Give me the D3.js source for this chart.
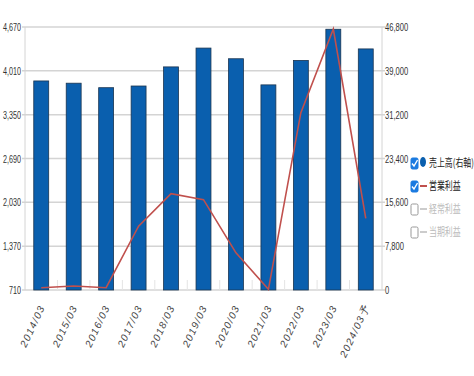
<!DOCTYPE html>
<html>
<head>
<meta charset="utf-8">
<script src="https://cdn.jsdelivr.net/npm/d3@7"></script>
<style>
  body { margin: 0; background: #fff; }
  svg text { font-family: "Liberation Sans", "DejaVu Sans", sans-serif; }
  .lg text { font-family: "Noto Sans CJK JP", sans-serif; }
</style>
</head>
<body>
<svg id="chart" width="474" height="376"></svg>
<script>
const periods = ['2014/03', '2015/03', '2016/03', '2017/03', '2018/03', '2019/03',
  '2020/03', '2021/03', '2022/03', '2023/03', '2024/03予'];
// 売上高 (right axis)
const sales = [37200, 36800, 36000, 36300, 39700, 43050, 41150, 36500, 40850, 46400, 42900];
// 営業利益 (left axis)
const opProfit = [745, 770, 745, 1670, 2160, 2070, 1270, 720, 3380, 4640, 1790];
const leftTicks = [710, 1370, 2030, 2690, 3350, 4010, 4670];
const rightTicks = [0, 7800, 15600, 23400, 31200, 39000, 46800];
const legendItems = [
  { name: '売上高(右軸)', on: true, kind: 'dot', color: '#0a5fae' },
  { name: '営業利益', on: true, kind: 'line', color: '#c0504d' },
  { name: '経常利益', on: false, kind: 'line', color: '#ccc' },
  { name: '当期利益', on: false, kind: 'line', color: '#ccc' },
];

const svg = d3.select('#chart');
const pl = 25, pr = 382, pt = 27, pb = 290;
const fmt = d3.format(',');

const x = d3.scaleBand().domain(periods).range([pl, pr]).paddingInner(0.54).paddingOuter(0.27);
const yL = d3.scaleLinear().domain([710, 4670]).range([pb, pt]);
const yR = d3.scaleLinear().domain([0, 46800]).range([pb, pt]);

// grid lines
svg.append('g').selectAll('line').data(leftTicks).enter().append('line')
  .attr('x1', pl - 3).attr('x2', pr + 3)
  .attr('y1', d => yL(d)).attr('y2', d => yL(d))
  .attr('stroke', '#d4d4d4').attr('stroke-width', 1.5);

// frame verticals
svg.append('line').attr('x1', pl).attr('x2', pl).attr('y1', pt).attr('y2', pb)
  .attr('stroke', '#d4d4d4').attr('stroke-width', 1);
svg.append('line').attr('x1', pr).attr('x2', pr).attr('y1', pt).attr('y2', pb)
  .attr('stroke', '#d4d4d4').attr('stroke-width', 1);

// category separator ticks
const step = x.step();
svg.append('g').selectAll('line').data(periods.slice(1)).enter().append('line')
  .attr('x1', d => x(d) - step * 0.27).attr('x2', d => x(d) - step * 0.27)
  .attr('y1', pb - 10).attr('y2', pb)
  .attr('stroke', '#e4e4e4').attr('stroke-width', 1);

// left axis labels (narrow)
svg.append('g').selectAll('text').data(leftTicks).enter().append('text')
  .attr('transform', d => `translate(${pl - 4},${yL(d) + 4}) scale(0.72,1)`)
  .attr('text-anchor', 'end').attr('font-size', 10).attr('fill', '#333')
  .text(d => fmt(d));

// right axis labels
svg.append('g').selectAll('text').data(rightTicks).enter().append('text')
  .attr('transform', d => `translate(${pr + 3},${yR(d) + 4}) scale(0.76,1)`)
  .attr('text-anchor', 'start').attr('font-size', 10).attr('fill', '#333')
  .text(d => fmt(d));

// bars
svg.append('g').selectAll('rect').data(periods).enter().append('rect')
  .attr('x', d => x(d)).attr('width', x.bandwidth())
  .attr('y', (d, i) => yR(sales[i]))
  .attr('height', (d, i) => pb - yR(sales[i]))
  .attr('fill', '#0a5fae').attr('stroke', '#1b3550').attr('stroke-width', 0.8);

// operating profit line
const line = d3.line()
  .x((d, i) => x(periods[i]) + x.bandwidth() / 2)
  .y(d => yL(d));
svg.append('path').datum(opProfit)
  .attr('d', line).attr('fill', 'none')
  .attr('stroke', '#c0504d').attr('stroke-width', 1.6);

// x labels
svg.append('g').selectAll('text').data(periods).enter().append('text')
  .attr('transform', d => `translate(${x(d) + x.bandwidth() / 2 + 4},${pb + 17}) rotate(-65)`)
  .attr('text-anchor', 'end').attr('font-size', 10).attr('fill', '#444')
  .attr('font-style', 'italic').attr('letter-spacing', 1.3)
  .text(d => d);

// legend
const lg = svg.append('g').attr('class', 'lg');
legendItems.forEach((it, i) => {
  const cy = 163 + i * 23;
  const g = lg.append('g');
  g.append('rect').attr('x', 411).attr('y', cy - 5).attr('width', 7).attr('height', 11).attr('rx', 1.5)
    .attr('fill', it.on ? '#1a7ae0' : '#fff')
    .attr('stroke', it.on ? '#1a7ae0' : '#999').attr('stroke-width', 1);
  if (it.on) {
    g.append('path').attr('d', `M412,${cy + 0.5} L414,${cy + 3} L417.5,${cy - 3}`)
      .attr('fill', 'none').attr('stroke', '#fff').attr('stroke-width', 1.4);
  }
  if (it.kind === 'dot') {
    g.append('ellipse').attr('cx', 423).attr('cy', cy - 1).attr('rx', 3).attr('ry', 5).attr('fill', it.color);
  } else {
    g.append('line').attr('x1', 420).attr('x2', 427).attr('y1', cy).attr('y2', cy)
      .attr('stroke', it.color).attr('stroke-width', 2);
  }
  g.append('text').attr('transform', `translate(429,${cy + 4}) scale(0.72,1)`).attr('font-size', 11)
    .attr('fill', it.on ? '#222' : '#bbb').text(it.name);
});
</script>
</body>
</html>
